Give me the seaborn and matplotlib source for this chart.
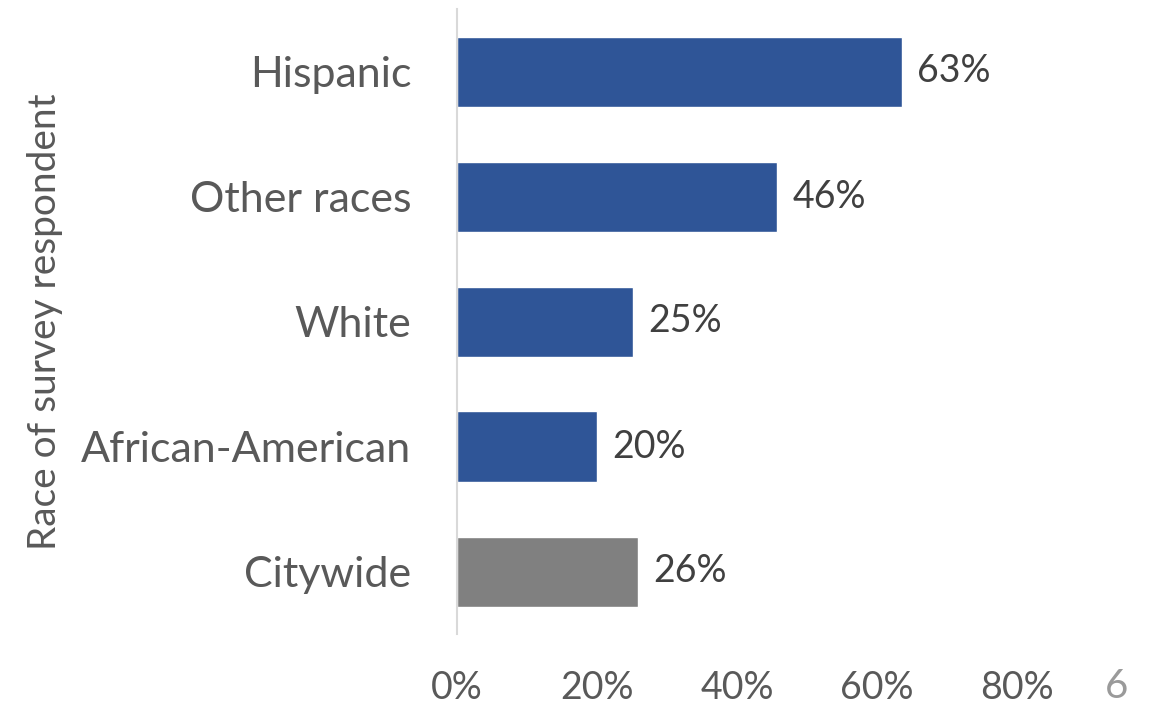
import matplotlib
matplotlib.use("Agg")
import matplotlib.pyplot as plt
import seaborn as sns
import pandas as pd

categories = ["Hispanic", "Other races", "White", "African-American", "Citywide"]
values = [0.635, 0.457, 0.251, 0.20, 0.258]
value_labels = ["63%", "46%", "25%", "20%", "26%"]
bar_colors = ["#2F5597", "#2F5597", "#2F5597", "#2F5597", "#808080"]
xticks = [0.0, 0.2, 0.4, 0.6, 0.8]
xtick_labels = ["0%", "20%", "40%", "60%", "80%"]
ylabel = "Race of survey respondent"
page_number = "6"

sns.set_theme(style="white")
plt.rcParams["font.family"] = ["Lato", "DejaVu Sans"]

df = pd.DataFrame({"category": categories, "value": values})

fig = plt.figure(figsize=(11.53, 7.05), dpi=100)
ax = fig.add_axes([457 / 1153, (705 - 634) / 705, 560 / 1153, 625 / 705])

sns.barplot(data=df, x="value", y="category", hue="category", palette=bar_colors,
            order=categories, hue_order=categories, width=0.56, legend=False,
            saturation=1, ax=ax)

ax.set_xlim(0, 0.8)
ax.set_ylim(4.5, -0.5)
ax.set_xticks(xticks)
ax.set_xticklabels(xtick_labels, fontsize=27, color="#595959")
ax.tick_params(axis="x", length=0, pad=26)
ax.tick_params(axis="y", length=0, pad=33, labelsize=31, labelcolor="#595959")
ax.set_xlabel("")
ax.set_ylabel(ylabel, fontsize=28, color="#595959", labelpad=13)

for s in ["top", "right", "bottom"]:
    ax.spines[s].set_visible(False)
ax.spines["left"].set_color("#D9D9D9")
ax.spines["left"].set_linewidth(1.5)

for i, (v, lab) in enumerate(zip(values, value_labels)):
    ax.text(v + 0.022, i, lab, va="center", ha="left", fontsize=27, color="#404040", clip_on=False)

fig.text(1117 / 1153, 1 - 686 / 705, page_number, ha="center", va="center",
         fontsize=29, color="#9A9A9A")

fig.savefig("out.png", dpi=100)
